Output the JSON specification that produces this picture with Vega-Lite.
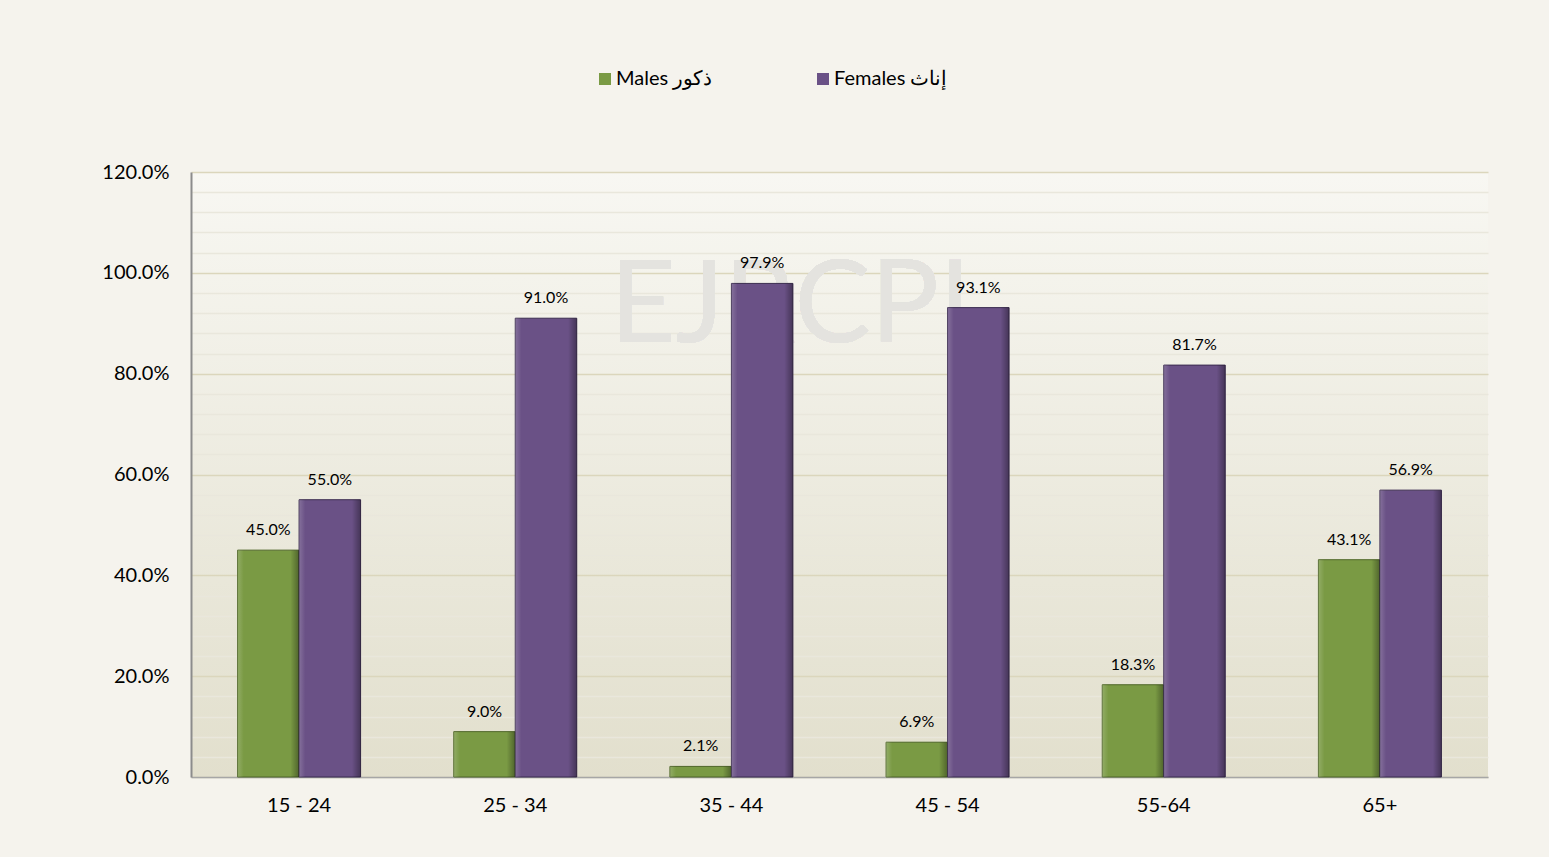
{
  "$schema": "https://vega.github.io/schema/vega-lite/v6.json",
  "width": 1297,
  "height": 605,
  "autosize": {"type": "none"},
  "padding": {"left": 191, "top": 172, "right": 61, "bottom": 80},
  "background": "#f5f3ed",
  "config": {
    "font": "Lato",
    "view": {
      "stroke": null,
      "fill": {
        "gradient": "linear",
        "x1": 0, "y1": -0.284, "x2": 0, "y2": 1.132,
        "stops": [
          {"offset": 0, "color": "#fefefd"},
          {"offset": 1, "color": "#dfdcc8"}
        ]
      }
    }
  },
  "data": {
    "values": [
      {"age": "15 - 24", "sex": "Males ذكور", "value": 0.450},
      {"age": "15 - 24", "sex": "Females إناث", "value": 0.550},
      {"age": "25 - 34", "sex": "Males ذكور", "value": 0.090},
      {"age": "25 - 34", "sex": "Females إناث", "value": 0.910},
      {"age": "35 - 44", "sex": "Males ذكور", "value": 0.021},
      {"age": "35 - 44", "sex": "Females إناث", "value": 0.979},
      {"age": "45 - 54", "sex": "Males ذكور", "value": 0.069},
      {"age": "45 - 54", "sex": "Females إناث", "value": 0.931},
      {"age": "55-64", "sex": "Males ذكور", "value": 0.183},
      {"age": "55-64", "sex": "Females إناث", "value": 0.817},
      {"age": "65+", "sex": "Males ذكور", "value": 0.431},
      {"age": "65+", "sex": "Females إناث", "value": 0.569}
    ]
  },
  "encoding": {
    "x": {
      "field": "age",
      "type": "nominal",
      "sort": null,
      "scale": {
        "domain": ["15 - 24", "25 - 34", "35 - 44", "45 - 54", "55-64", "65+"],
        "paddingInner": 0.431,
        "paddingOuter": 0.2155
      },
      "axis": {
        "title": null,
        "labelAngle": 0,
        "labelFontSize": 20,
        "labelColor": "#000000",
        "labelPadding": 18,
        "ticks": false,
        "domainColor": "#a6a6a6",
        "domainWidth": 1.5,
        "grid": false
      }
    },
    "xOffset": {
      "field": "sex",
      "type": "nominal",
      "sort": ["Males ذكور", "Females إناث"],
      "scale": {"paddingInner": 0, "paddingOuter": 0}
    },
    "y": {
      "field": "value",
      "type": "quantitative",
      "scale": {"domain": [0, 1.2], "nice": false, "zero": true},
      "axis": {
        "title": null,
        "values": [0, 0.04, 0.08, 0.12, 0.16, 0.2, 0.24, 0.28, 0.32, 0.36, 0.4, 0.44, 0.48, 0.52, 0.56, 0.6, 0.64, 0.68, 0.72, 0.76, 0.8, 0.84, 0.88, 0.92, 0.96, 1.0, 1.04, 1.08, 1.12, 1.16, 1.2],
        "labelExpr": "abs(datum.value*5 - round(datum.value*5)) < 0.001 ? format(datum.value, '.1%') : ''",
        "labelFontSize": 20,
        "labelColor": "#000000",
        "labelPadding": 22,
        "ticks": false,
        "domainColor": "#8c8c8c",
        "domainWidth": 2,
        "grid": true,
        "gridColor": {
          "condition": {"test": "abs(datum.value*5 - round(datum.value*5)) < 0.001", "value": "#dbd6bc"},
          "value": "#e9e7dc"
        },
        "gridWidth": 1.5
      }
    }
  },
  "layer": [
    {
      "mark": {"type": "text", "fontSize": 114, "color": "#e4e3df", "baseline": "alphabetic", "align": "center", "dx": 59},
      "encoding": {
        "x": {"datum": "35 - 44"},
        "xOffset": null,
        "y": {"datum": 0.863},
        "text": {"value": "EJRCPI"}
      }
    },
    {
      "mark": {"type": "bar", "strokeWidth": 1},
      "encoding": {
        "color": {
          "field": "sex",
          "type": "nominal",
          "sort": ["Males ذكور", "Females إناث"],
          "scale": {"domain": ["Males ذكور", "Females إناث"], "range": ["#7a9a44", "#6a5186"]},
          "legend": {
            "title": null,
            "orient": "none",
            "legendX": 404,
            "legendY": -103,
            "direction": "horizontal",
            "symbolType": "square",
            "symbolSize": 144,
            "symbolStrokeWidth": 0,
            "labelFontSize": 20,
            "labelColor": "#000000",
            "labelOffset": 1,
            "columnPadding": 100,
            "labelLimit": 300
          }
        },
        "stroke": {
          "field": "sex",
          "type": "nominal",
          "scale": {"domain": ["Males ذكور", "Females إناث"], "range": ["#4f6628", "#3b2c50"]},
          "legend": null
        }
      }
    },
    {
      "mark": {
        "type": "bar",
        "strokeWidth": 0,
        "fill": {
          "gradient": "linear",
          "x1": 0, "y1": 0, "x2": 1, "y2": 0,
          "stops": [
            {"offset": 0, "color": "rgba(255,255,255,0.18)"},
            {"offset": 0.1, "color": "rgba(255,255,255,0.0)"},
            {"offset": 0.86, "color": "rgba(0,0,0,0.0)"},
            {"offset": 1, "color": "rgba(0,0,0,0.35)"}
          ]
        }
      }
    },
    {
      "mark": {"type": "text", "fontSize": 16, "color": "#000000", "baseline": "alphabetic", "dy": -15},
      "encoding": {
        "text": {"field": "value", "type": "quantitative", "format": ".1%"}
      }
    }
  ]
}
